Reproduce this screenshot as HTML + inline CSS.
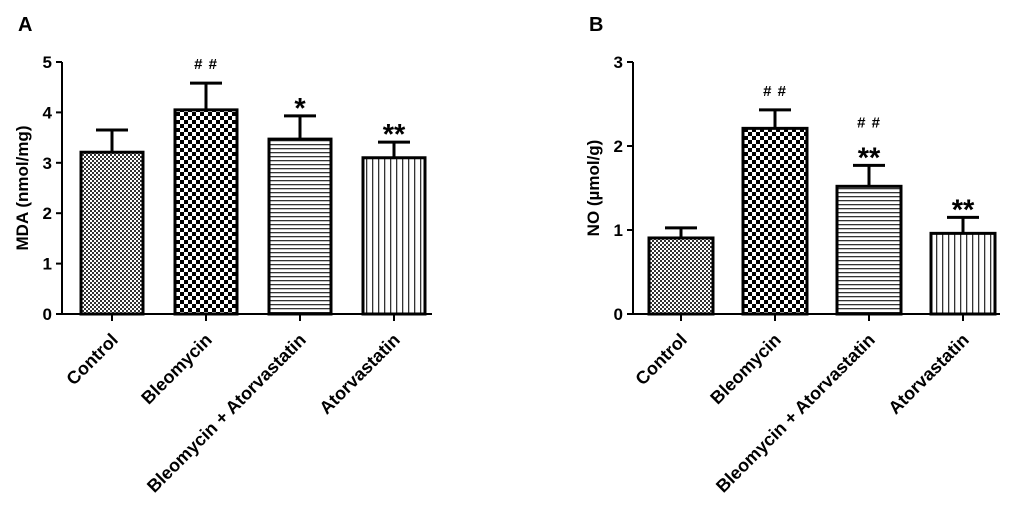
<!DOCTYPE html>
<html><head><meta charset="utf-8"><style>
body{margin:0;background:#fff;}
svg{display:block;font-family:"Liberation Sans",Arial,sans-serif;}
</style></head><body>
<svg id="c" width="1024" height="522" viewBox="0 0 1024 522">
<defs>
<pattern id="p0" width="4" height="4" patternUnits="userSpaceOnUse"><rect width="4" height="4" fill="#fff"/><rect width="2" height="2" fill="#333"/><rect x="2" y="2" width="2" height="2" fill="#333"/></pattern>
<pattern id="p1" width="8" height="8" patternUnits="userSpaceOnUse"><rect width="8" height="8" fill="#fff"/><rect width="4" height="4" fill="#000"/><rect x="4" y="4" width="4" height="4" fill="#000"/></pattern>
<pattern id="p2" width="6" height="4" patternUnits="userSpaceOnUse"><rect width="6" height="4" fill="#fff"/><rect width="6" height="1.3" fill="#333"/></pattern>
<pattern id="p3" width="6" height="6" patternUnits="userSpaceOnUse"><rect width="6" height="6" fill="#fff"/><rect width="1.3" height="6" fill="#333"/></pattern>
</defs>
</svg>
<script>
const categories=["Control","Bleomycin","Bleomycin + Atorvastatin","Atorvastatin"];
const mdaValues=[3.21,4.05,3.47,3.10];
const mdaErrors=[0.44,0.53,0.46,0.31];
const mdaMarks=["","##","*","**"];
const mdaTicks=[0,1,2,3,4,5];
const noValues=[0.905,2.21,1.52,0.96];
const noErrors=[0.12,0.22,0.25,0.19];
const noMarks=["","##","##\n**","**"];
const noTicks=[0,1,2,3];
const svg=document.getElementById('c');
const NS='http://www.w3.org/2000/svg';
function mk(t,a,txt){const e=document.createElementNS(NS,t);for(const k in a)e.setAttribute(k,a[k]);if(txt!==undefined)e.textContent=txt;svg.appendChild(e);return e;}
function panel(o){
  const y=v=>314-(v/o.max)*252;
  const x=i=>o.first+i*94;
  const bw=o.bw;
  const ax=mk('path',{d:`M${o.ax},62 V314 H${o.axEnd}`,stroke:'#000','stroke-width':2,fill:'none'});
  
  
  o.ticks.forEach(t=>{
    const l=mk('line',{x1:o.ax-6,x2:o.ax,y1:y(t),y2:y(t),stroke:'#000','stroke-width':2});
    
    
    const tx=mk('text',{x:o.ax-10,y:y(t)+6,'text-anchor':'end','font-size':17,'font-weight':'bold'},t);
    
    
  });
  const yt=mk('text',{transform:`translate(${o.ax-34},188) rotate(-90)`,'text-anchor':'middle','font-size':17,'font-weight':'bold'},o.title);
  
  
  const pl=mk('text',{x:o.ax-44,y:31,'font-size':20,'font-weight':'bold'},o.label);
  
  
  o.values.forEach((v,i)=>{
    const cx=x(i);
    const b=mk('rect',{x:cx-bw/2,y:y(v),width:bw,height:314-y(v),fill:`url(#p${i})`,stroke:'#000','stroke-width':3});
    
    
    const et=y(v+o.err[i]);
    const e=mk('path',{d:`M${cx},${y(v)} V${et} M${cx-16},${et} H${cx+16}`,stroke:'#000','stroke-width':3,fill:'none'});
    
    
    const tk=mk('line',{x1:cx,x2:cx,y1:314,y2:321,stroke:'#000','stroke-width':2});
    
    
    const cl=mk('text',{transform:`translate(${cx+7},341) rotate(-45)`,'text-anchor':'end','font-size':18,'font-weight':'bold'},categories[i]);
    
    
    const lines=o.marks[i].split('\n').filter(s=>s);
    lines.forEach((s,j)=>{
      const isHash=s[0]==='#';
      const yy=et-8-(lines.length-1-j)*24+(isHash?-6:10);
      const m=mk('text',{x:cx,y:yy,'text-anchor':'middle','font-size':isHash?15:29,'font-weight':'bold','letter-spacing':isHash?1:0},isHash?'# #':s);
      
      
    });
  });
}
panel({id:'mda',ax:62,axEnd:432,first:112,bw:62,max:5,ticks:mdaTicks,values:mdaValues,err:mdaErrors,marks:mdaMarks,title:'MDA (nmol/mg)',label:'A'});
panel({id:'no',ax:633,axEnd:1000,first:681,bw:64,max:3,ticks:noTicks,values:noValues,err:noErrors,marks:noMarks,title:'NO (µmol/g)',label:'B'});
</script>
</body></html>
